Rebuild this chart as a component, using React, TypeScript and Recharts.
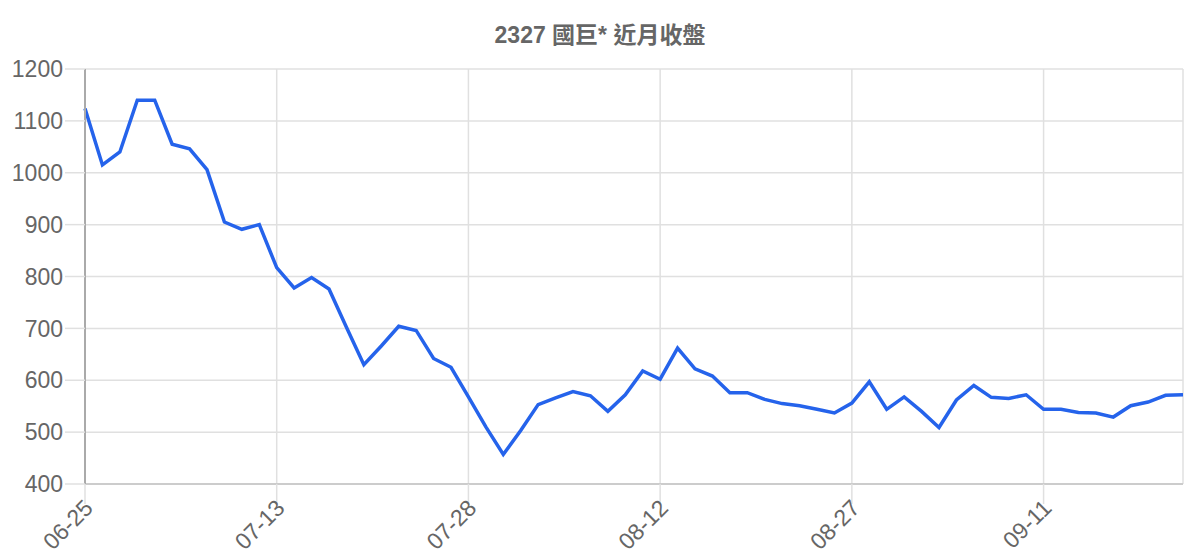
import React from 'react';
import {
  LineChart,
  Line,
  XAxis,
  YAxis,
  CartesianGrid
} from 'recharts';

const dates = [
  '06-25', '06-26', '06-27', '06-28', '06-29', '07-02', '07-03', '07-05', '07-06', '07-09', '07-11',
  '07-13', '07-16', '07-17', '07-18', '07-19', '07-20', '07-23', '07-24', '07-25', '07-26', '07-27',
  '07-28', '07-30', '07-31', '08-01', '08-02', '08-03', '08-06', '08-07', '08-08', '08-09', '08-10',
  '08-12', '08-13', '08-14', '08-15', '08-16', '08-17', '08-20', '08-21', '08-22', '08-23', '08-24',
  '08-27', '08-28', '08-29', '08-30', '08-31', '09-03', '09-04', '09-05', '09-06', '09-07', '09-10',
  '09-11', '09-12', '09-13', '09-14', '09-17', '09-18', '09-19', '09-20', '09-21'
];

const closes = [
  1124, 1015, 1040, 1140, 1140, 1055, 1046, 1006, 905, 891, 900,
  817, 778, 798, 776, 702, 630, 666, 704, 696, 642, 625,
  568, 510, 457, 503, 553, 566, 578, 570, 540, 572, 618,
  602, 662, 622, 608, 576, 576, 563, 555, 551, 544, 537,
  556, 597, 544, 568, 540, 509, 562, 590, 567, 565, 572,
  544, 544, 538, 537, 529, 551, 558, 571, 572
];

const yTicks = [400, 500, 600, 700, 800, 900, 1000, 1100, 1200];

const title = '2327 國巨* 近月收盤';

const data = dates.map((date, i) => ({ date, close: closes[i] }));

// rotated date label, ending just under the tick
const DateTick = (props: any) => {
  const { x, y, payload } = props;
  const ax = x - 2;
  const ay = y - 8;
  return (
    <text
      x={ax}
      y={ay}
      textAnchor="end"
      dy="0.7em"
      fill="#666666"
      fontSize={23}
      transform={`rotate(-45 ${ax} ${ay})`}
    >
      {payload.value}
    </text>
  );
};

const App: React.FC = () => {
  return (
    <div
      style={{
        position: 'relative',
        width: 1184,
        height: 552,
        fontFamily: '"Liberation Sans", Arial, "Noto Sans CJK TC", sans-serif'
      }}
    >
      <div
        style={{
          position: 'absolute',
          top: 13,
          left: 0,
          width: 1184,
          textAlign: 'center',
          fontSize: 23,
          fontWeight: 'bold',
          color: '#666666',
          lineHeight: '28px'
        }}
      >
        {title}
      </div>
      <LineChart
        width={1184}
        height={552}
        data={data}
        margin={{ top: 61, right: 9, left: 0, bottom: 0 }}
      >
        <CartesianGrid stroke="#e0e0e0" strokeWidth={1.5} />
        <XAxis
          dataKey="date"
          interval={10}
          height={76}
          tickSize={20}
          tickLine={{ stroke: '#e0e0e0', strokeWidth: 1.5 }}
          axisLine={{ stroke: '#cccccc', strokeWidth: 2 }}
          tick={<DateTick />}
        />
        <YAxis
          domain={[400, 1200]}
          ticks={yTicks}
          width={77}
          tickSize={20}
          tickLine={{ stroke: '#e0e0e0', strokeWidth: 1.5 }}
          axisLine={{ stroke: '#aaaaaa', strokeWidth: 2 }}
          tick={{ fill: '#666666', fontSize: 23 }}
        />
        <Line
          type="linear"
          dataKey="close"
          stroke="#2563eb"
          strokeWidth={3.5}
          dot={false}
          isAnimationActive={false}
        />
      </LineChart>
    </div>
  );
};

export default App;
